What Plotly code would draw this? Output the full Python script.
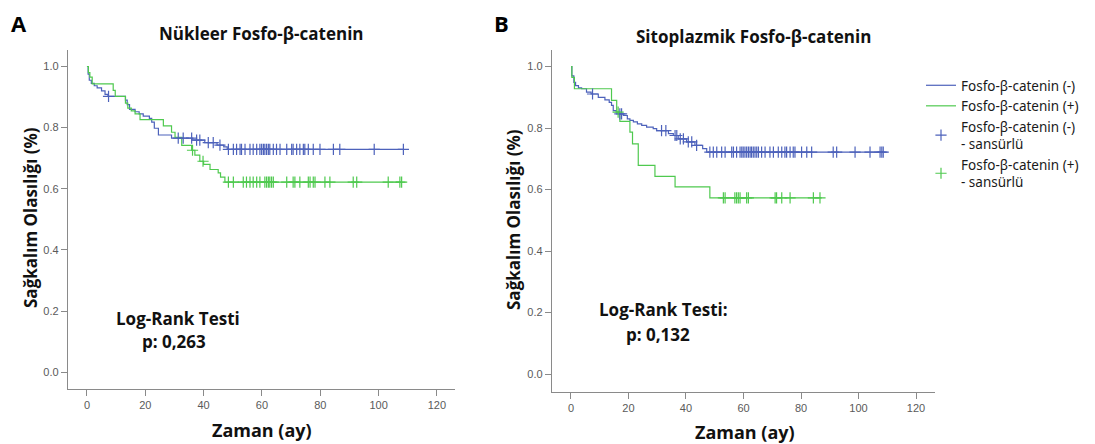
import numpy as np
import plotly.graph_objects as go

# ---------------- data ----------------
# Panel A (Nükleer) - negative group: event step times and survival
a_neg_t = [0, 0.4, 0.8, 1.5, 2.5, 3.5, 5.0, 6.2, 7.2, 13.2, 13.8, 14.6, 16.5, 17.9, 19.3,
           21.4, 22.2, 23.1, 24.5, 29.0, 36.3, 40.4, 44.6, 46.9, 48.1]
a_neg_s = [1.0, 0.975, 0.955, 0.945, 0.937, 0.93, 0.92, 0.909, 0.902, 0.89, 0.875, 0.86, 0.852,
           0.845, 0.838, 0.83, 0.818, 0.798, 0.776, 0.766, 0.759, 0.751, 0.743, 0.737, 0.729]
a_neg_end = 108.6
a_neg_cens = [7.4, 31.3, 33.0, 35.9, 37.6, 38.7, 41.6, 43.3, 45.6,
              48.5, 50.2, 51.3, 52.5, 53.0, 54.2, 55.9, 57.0, 58.2, 59.3, 59.9, 60.5, 61.0,
              61.6, 62.2, 62.7, 63.9, 65.0, 66.2, 68.5, 70.2, 70.7, 71.9, 73.0, 74.2, 74.7,
              75.9, 77.6, 79.9, 84.5, 86.7, 98.5, 108.5]

# Panel A - positive group
a_pos_t = [0, 0.5, 1.0, 1.8, 9.0, 9.7, 13.2, 14.0, 15.2, 16.5, 18.2, 26.2, 29.0, 30.2,
           32.5, 35.9, 37.0, 38.7, 40.0, 42.2, 45.0, 45.8, 47.3]
a_pos_s = [1.0, 0.98, 0.965, 0.943, 0.922, 0.902, 0.88, 0.864, 0.855, 0.845, 0.826, 0.806,
           0.785, 0.768, 0.742, 0.726, 0.71, 0.69, 0.68, 0.663, 0.652, 0.638, 0.622]
a_pos_end = 108.0
a_pos_cens = [36.2, 39.8, 48.5, 50.2, 53.6, 54.7, 55.9, 57.0, 58.2, 59.3, 61.0, 61.6, 62.2,
              62.7, 63.3, 63.9, 68.5, 70.7, 71.3, 73.0, 75.9, 76.5, 77.6, 78.2, 81.6, 83.3,
              91.3, 92.5, 103.3, 107.3, 107.9]

# Panel B (Sitoplazmik) - negative group
b_neg_t = [0, 0.3, 1.0, 1.6, 2.6, 3.7, 5.4, 7.0, 9.5, 11.8, 13.3, 14.1, 14.7, 15.7, 16.5,
           18.2, 19.6, 20.5, 21.7, 23.1, 24.6, 26.3, 28.6, 29.8, 33.9, 35.6, 37.3, 40.2,
           43.1, 45.8, 47.2]
b_neg_s = [1.0, 0.97, 0.949, 0.938, 0.931, 0.928, 0.917, 0.911, 0.9, 0.892, 0.884, 0.874,
           0.857, 0.852, 0.846, 0.841, 0.83, 0.825, 0.82, 0.814, 0.809, 0.803, 0.798, 0.792,
           0.782, 0.776, 0.765, 0.755, 0.744, 0.733, 0.722]
b_neg_end = 108.8
b_neg_cens = [7.5, 17.0, 17.6, 31.5, 33.0, 36.2, 36.8, 38.0, 39.1, 40.8, 42.0, 43.7,
              48.3, 49.5, 50.7, 52.4, 53.6, 55.9, 56.5, 57.6, 58.8, 59.4, 59.9, 60.5, 61.1,
              61.7, 62.3, 62.8, 63.4, 64.0, 64.6, 65.2, 66.3, 67.5, 69.2, 70.4, 72.1, 73.3,
              74.4, 75.0, 76.2, 77.3, 77.9, 80.2, 82.0, 83.7, 91.2, 92.4, 98.8, 104.0,
              107.5, 108.1, 108.6]

# Panel B - positive group
b_pos_t = [0, 0.3, 1.2, 14.1, 15.9, 17.0, 20.5, 21.4, 23.4, 29.2, 36.2, 48.3]
b_pos_s = [1.0, 0.965, 0.928, 0.89, 0.852, 0.822, 0.787, 0.749, 0.679, 0.643, 0.609, 0.573]
b_pos_end = 87.2
b_pos_cens = [16.4, 53.0, 53.6, 57.0, 57.6, 58.2, 58.8, 61.1, 61.7, 71.0, 71.5, 73.3, 76.2,
              84.3, 86.6]

x_ticks = [0, 20, 40, 60, 80, 100, 120]
y_ticks = [0.0, 0.2, 0.4, 0.6, 0.8, 1.0]

names = ["Fosfo-β-catenin (-)", "Fosfo-β-catenin (+)",
         "Fosfo-β-catenin (-)<br>- sansürlü", "Fosfo-β-catenin (+)<br>- sansürlü"]

BLUE = "#4d62bb"
GREEN = "#4fc94f"


def surv_at(ts, ss, c):
    idx = np.searchsorted(np.array(ts), np.array(c), side="right") - 1
    return list(np.array(ss)[idx])


fig = go.Figure()

panels = [
    ("x", "y", a_neg_t, a_neg_s, a_neg_end, a_neg_cens, a_pos_t, a_pos_s, a_pos_end, a_pos_cens, False),
    ("x2", "y2", b_neg_t, b_neg_s, b_neg_end, b_neg_cens, b_pos_t, b_pos_s, b_pos_end, b_pos_cens, True),
]

for xa, ya, nt, ns, nend, nc, pt, ps, pend, pc, show in panels:
    for (t, s, end, col, ln) in [(nt, ns, nend, BLUE, names[0]), (pt, ps, pend, GREEN, names[1])]:
        fig.add_trace(go.Scatter(
            x=list(t) + [end], y=list(s) + [s[-1]], mode="lines",
            line=dict(color=col, width=1.2, shape="hv"),
            name=ln, legendgroup=ln, showlegend=show, xaxis=xa, yaxis=ya))
    for (t, s, c, col, cn) in [(nt, ns, nc, BLUE, names[2]), (pt, ps, pc, GREEN, names[3])]:
        fig.add_trace(go.Scatter(
            x=c, y=surv_at(t, s, c), mode="markers",
            marker=dict(symbol="cross-thin-open", size=8, color=col,
                        line=dict(color=col, width=1.2)),
            name=cn, legendgroup=cn, showlegend=show, xaxis=xa, yaxis=ya))

# The page body adds an 8px margin: work in page pixels and convert.
OFF = 8
W, H = 1095 - OFF, 444 - OFF


def px(x):
    return (x - OFF) / W


def py(y):
    return 1 - (y - OFF) / H


axis_common = dict(showline=True, linecolor="#8a8a8a", linewidth=1.3, ticks="outside",
                   tickcolor="#8a8a8a", ticklen=6, showgrid=False, zeroline=False,
                   tickfont=dict(family="Liberation Sans, Arial", size=11, color="#5a5a5a"))

fig.update_layout(
    width=W, height=H,
    margin=dict(l=0, r=0, t=0, b=0),
    paper_bgcolor="white", plot_bgcolor="white",
    xaxis=dict(domain=[px(68), px(455)], range=[-6.5, 126.2], tickvals=x_ticks,
               anchor="y", **axis_common),
    yaxis=dict(domain=[py(389), py(50)], range=[-0.055, 1.054], tickvals=y_ticks,
               tickformat=".1f", anchor="x", **axis_common),
    xaxis2=dict(domain=[px(552), px(935)], range=[-6.6, 126.6], tickvals=x_ticks,
                anchor="y2", **axis_common),
    yaxis2=dict(domain=[py(391.5), py(50)], range=[-0.0565, 1.054], tickvals=y_ticks,
                tickformat=".1f", anchor="x2", **axis_common),
    legend=dict(x=px(921), y=py(70), xanchor="left", yanchor="top",
                font=dict(family="Noto Sans, Open Sans", size=13.5, color="#1a1a1a"),
                tracegroupgap=0, itemwidth=30, bgcolor="rgba(0,0,0,0)"),
    showlegend=True,
)

bold = "Open Sans, Noto Sans, Arial"


def ann(x, y, text, size, angle=0, color="#111"):
    fig.add_annotation(x=px(x), y=py(y), xref="paper", yref="paper", text=text,
                       showarrow=False, textangle=angle, xanchor="center", yanchor="middle",
                       font=dict(family=bold, size=size, color=color, weight="bold"))


ann(19, 23, "A", 22, color="#000")
ann(501, 23, "B", 22, color="#000")
ann(261, 34, "Nükleer Fosfo-β-catenin", 17)
ann(753, 36, "Sitoplazmik Fosfo-β-catenin", 17)
ann(30, 218, "Sağkalım Olasılığı (%)", 17, angle=-90)
ann(513, 220, "Sağkalım Olasılığı (%)", 17, angle=-90)
ann(262, 430, "Zaman (ay)", 18)
ann(745, 432, "Zaman (ay)", 18)
ann(178, 318, "Log-Rank Testi", 17)
ann(174, 341, "p: 0,263", 17)
ann(663, 309, "Log-Rank Testi:", 17)
ann(658, 334, "p: 0,132", 17)

fig.write_html("out.html")
